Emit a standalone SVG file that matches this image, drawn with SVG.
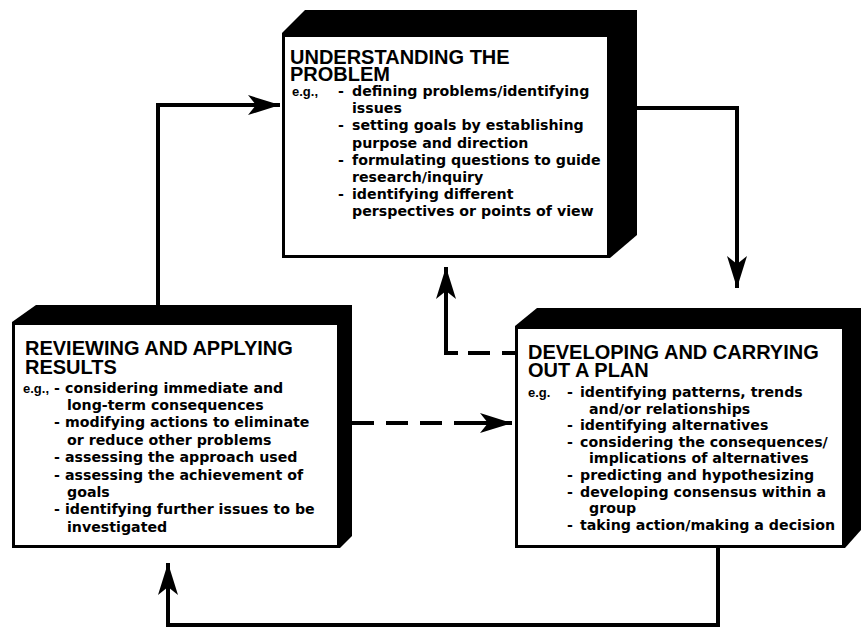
<svg xmlns="http://www.w3.org/2000/svg" width="861" height="628" viewBox="0 0 861 628">
<style>
.bg{fill:#fff}
.box3d{fill:#000}
.face{fill:#fff}
.title{font-family:"Liberation Sans",Arial,sans-serif;font-weight:bold;font-size:20px;fill:#000}
.body{font-family:"DejaVu Sans",Verdana,sans-serif;font-weight:bold;font-size:14.2px;fill:#000}
.eg{font-family:"Liberation Sans",Arial,sans-serif;font-weight:bold;font-size:13px;fill:#000}
.line{fill:none;stroke:#000;stroke-width:4}
.dash{fill:none;stroke:#000;stroke-width:4}
</style>
<defs>
<marker id="arr" markerUnits="userSpaceOnUse" markerWidth="34" markerHeight="22" viewBox="-32 -11 34 22" refX="0" refY="0" orient="auto">
<path d="M0,0 L-32,-10 L-24,0 L-32,10 Z" fill="#000"/>
</marker>
</defs>
<rect class="bg" x="0" y="0" width="861" height="628"/>

<g id="connectors">
<path class="line" d="M637,108 H737 V288" marker-end="url(#arr)"/>
<path class="line" d="M718,548 V625 H168 V563" marker-end="url(#arr)"/>
<path class="line" d="M158,307 V105 H280" marker-end="url(#arr)"/>
<path class="line" d="M458,353 H446 V267" marker-end="url(#arr)"/>
<path class="dash" d="M468,353 H490 M502,353 H515"/>
<path class="dash" d="M352,423 H374 M386,423 H408 M420,423 H442"/>
<path class="line" d="M454,423 H512" marker-end="url(#arr)"/>
</g>

<g id="node-understanding">
<polygon class="box3d" points="282,33 305,10 637,10 637,235 610,258 282,258"/>
<rect class="face" x="285" y="37" width="322" height="218"/>
<text class="title"><tspan x="290" y="64">UNDERSTANDING THE</tspan><tspan x="290" y="81">PROBLEM</tspan></text>
<text class="eg" x="292" y="96">e.g.,</text>
<text class="body"><tspan x="338" y="96">-</tspan><tspan x="352" y="96">defining problems/identifying</tspan><tspan x="352" y="113.2">issues</tspan></text>
<text class="body"><tspan x="338" y="130.4">-</tspan><tspan x="352" y="130.4">setting goals by establishing</tspan><tspan x="352" y="147.6">purpose and direction</tspan></text>
<text class="body"><tspan x="338" y="164.8">-</tspan><tspan x="352" y="164.8">formulating questions to guide</tspan><tspan x="352" y="182">research/inquiry</tspan></text>
<text class="body"><tspan x="338" y="199.2">-</tspan><tspan x="352" y="199.2">identifying different</tspan><tspan x="352" y="216.4">perspectives or points of view</tspan></text>
</g>

<g id="node-reviewing">
<polygon class="box3d" points="12,322 36,305 352,305 352,536 340,548 12,548"/>
<rect class="face" x="15" y="325" width="322" height="220"/>
<text class="title"><tspan x="25" y="355">REVIEWING AND APPLYING</tspan><tspan x="25" y="374">RESULTS</tspan></text>
<text class="eg" x="23" y="392.5">e.g.,</text>
<text class="body"><tspan x="54" y="392.5">-</tspan><tspan x="65" y="392.5">considering immediate and</tspan><tspan x="67" y="409.9">long-term consequences</tspan></text>
<text class="body"><tspan x="54" y="427.3">-</tspan><tspan x="65" y="427.3">modifying actions to eliminate</tspan><tspan x="67" y="444.7">or reduce other problems</tspan></text>
<text class="body"><tspan x="54" y="462.1">-</tspan><tspan x="65" y="462.1">assessing the approach used</tspan></text>
<text class="body"><tspan x="54" y="479.5">-</tspan><tspan x="65" y="479.5">assessing the achievement of</tspan><tspan x="67" y="496.9">goals</tspan></text>
<text class="body"><tspan x="54" y="514.3">-</tspan><tspan x="65" y="514.3">identifying further issues to be</tspan><tspan x="67" y="531.7">investigated</tspan></text>
</g>

<g id="node-developing">
<polygon class="box3d" points="515,326 537,308 861,308 861,530 845,548 515,548"/>
<rect class="face" x="518" y="329" width="324" height="216"/>
<text class="title"><tspan x="528" y="359">DEVELOPING AND CARRYING</tspan><tspan x="528" y="377">OUT A PLAN</tspan></text>
<text class="eg" x="528" y="397">e.g.</text>
<text class="body"><tspan x="567" y="397">-</tspan><tspan x="580" y="397">identifying patterns, trends</tspan><tspan x="589" y="413.6">and/or relationships</tspan></text>
<text class="body"><tspan x="567" y="430.2">-</tspan><tspan x="580" y="430.2">identifying alternatives</tspan></text>
<text class="body"><tspan x="567" y="446.8">-</tspan><tspan x="580" y="446.8">considering the consequences/</tspan><tspan x="589" y="463.4">implications of alternatives</tspan></text>
<text class="body"><tspan x="567" y="480">-</tspan><tspan x="580" y="480">predicting and hypothesizing</tspan></text>
<text class="body"><tspan x="567" y="496.6">-</tspan><tspan x="580" y="496.6">developing consensus within a</tspan><tspan x="589" y="513.2">group</tspan></text>
<text class="body"><tspan x="567" y="529.8">-</tspan><tspan x="580" y="529.8">taking action/making a decision</tspan></text>
</g>
</svg>
